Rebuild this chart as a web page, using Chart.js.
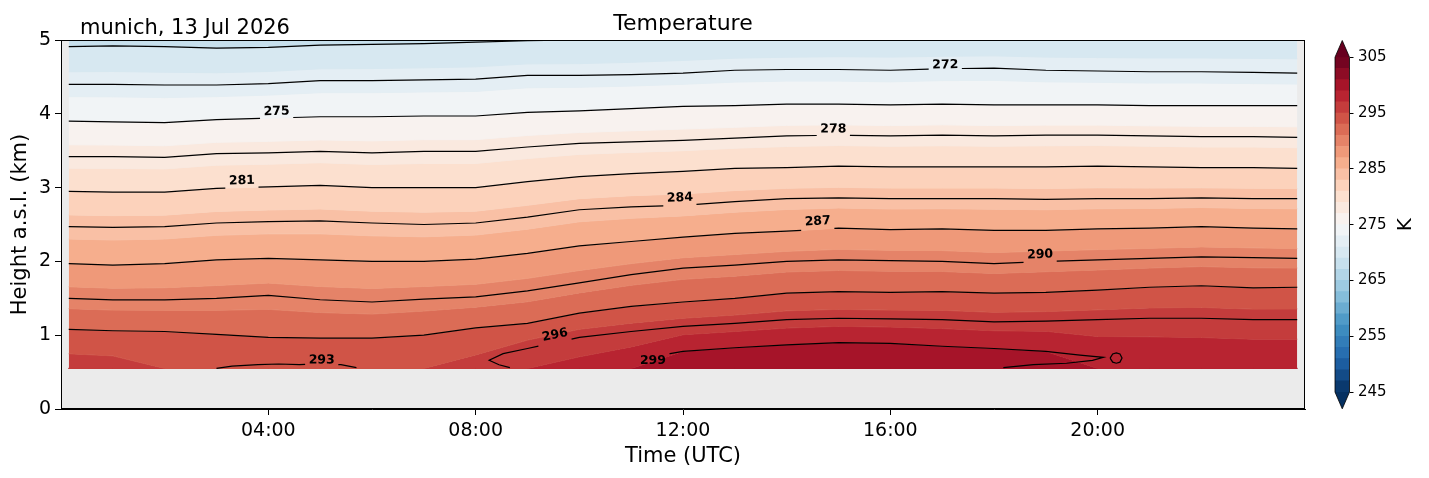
<!DOCTYPE html>
<html>
<head>
<meta charset="utf-8">
<title>Temperature</title>
<script src="https://cdn.jsdelivr.net/npm/chart.js@4.4.1/dist/chart.umd.min.js"></script>
<style>
  html, body { margin: 0; padding: 0; background: #fff; }
  #wrap { position: relative; width: 1429px; height: 478px; }
  #main { position: absolute; left: 0; top: 0; }
  #cbar { position: absolute; left: 1320px; top: 0; }
</style>
</head>
<body>
<div id="wrap">
  <canvas id="main" width="1320" height="478"></canvas>
  <canvas id="cbar" width="109" height="478"></canvas>
</div>
<script>
// time of each profile (hours UTC)
const hours = [0.15, 1, 2, 3, 4, 5, 6, 7, 8, 9, 10, 11, 12, 13, 14, 15, 16, 17, 18, 19, 20, 21, 22, 23, 23.85];

// lowest and highest gate of the profiles (km)
const lowestGate = 0.55;
const topGate = 5.0;

// height (km) of each isotherm at those times, null where it is not there
const h269 = [4.91, 4.92, 4.91, 4.89, 4.90, 4.93, 4.94, 4.95, 4.97, 4.99, 5.00, null, null, null, null, null, null, null, null, null, null, null, null, null, null];
const h272 = [4.40, 4.40, 4.39, 4.39, 4.41, 4.45, 4.45, 4.46, 4.47, 4.52, 4.52, 4.53, 4.55, 4.59, 4.60, 4.60, 4.59, 4.61, 4.62, 4.59, 4.58, 4.57, 4.57, 4.56, 4.55];
const h275 = [3.90, 3.89, 3.88, 3.92, 3.94, 3.96, 3.96, 3.97, 3.97, 4.02, 4.04, 4.07, 4.10, 4.11, 4.13, 4.13, 4.12, 4.13, 4.12, 4.12, 4.12, 4.11, 4.11, 4.11, 4.11];
const h278 = [3.42, 3.42, 3.41, 3.46, 3.47, 3.49, 3.47, 3.49, 3.49, 3.55, 3.60, 3.62, 3.64, 3.67, 3.70, 3.71, 3.70, 3.71, 3.70, 3.71, 3.71, 3.70, 3.69, 3.69, 3.68];
const h281 = [2.95, 2.94, 2.94, 2.99, 3.01, 3.03, 3.00, 3.00, 3.00, 3.08, 3.15, 3.19, 3.22, 3.26, 3.27, 3.29, 3.28, 3.28, 3.28, 3.28, 3.29, 3.28, 3.27, 3.27, 3.26];
const h284 = [2.47, 2.46, 2.47, 2.52, 2.54, 2.55, 2.52, 2.50, 2.52, 2.60, 2.70, 2.74, 2.76, 2.81, 2.85, 2.86, 2.85, 2.85, 2.85, 2.84, 2.85, 2.85, 2.86, 2.85, 2.85];
const h287 = [1.97, 1.95, 1.97, 2.02, 2.04, 2.02, 2.00, 2.00, 2.03, 2.11, 2.21, 2.27, 2.33, 2.38, 2.41, 2.45, 2.43, 2.44, 2.42, 2.42, 2.44, 2.45, 2.47, 2.45, 2.44];
const h290 = [1.50, 1.48, 1.48, 1.50, 1.54, 1.48, 1.45, 1.49, 1.52, 1.60, 1.71, 1.82, 1.91, 1.95, 2.00, 2.02, 2.01, 2.00, 1.97, 2.00, 2.02, 2.04, 2.06, 2.05, 2.04];
const h293 = [1.08, 1.06, 1.05, 1.01, 0.97, 0.96, 0.96, 1.00, 1.10, 1.16, 1.30, 1.39, 1.45, 1.50, 1.57, 1.59, 1.58, 1.59, 1.57, 1.58, 1.61, 1.65, 1.67, 1.64, 1.65];
const h296 = [null, null, null, null, null, null, null, null, null, 0.82, 0.97, 1.05, 1.12, 1.16, 1.21, 1.23, 1.22, 1.21, 1.18, 1.19, 1.21, 1.23, 1.23, 1.21, 1.21];
const h299 = [null, null, null, null, null, null, null, null, null, null, null, null, 0.78, 0.83, 0.87, 0.90, 0.89, 0.85, 0.82, 0.78, null, null, null, null, null];

// temperature (K) at the top gate and at the lowest gate
const tTop = [268.5, 268.5, 268.5, 268.5, 268.6, 268.7, 268.7, 268.8, 268.8, 268.9, 269.0, 269.2, 269.4, 269.5, 269.6, 269.7, 269.7, 269.7, 269.7, 269.7, 269.7, 269.7, 269.7, 269.7, 269.7];
const tBottom = [296.2, 296.0, 294.8, 294.5, 294.5, 294.5, 294.6, 294.9, 296.0, 297.0, 297.6, 298.4, 299.6, 300.0, 300.3, 300.4, 300.3, 300.1, 299.7, 299.3, 298.9, 298.7, 298.6, 298.5, 298.5];

// ends of the closed isotherms near the ground
const t296Start = [8.66, 8.45, 8.26, 8.53];
const h296Start = [0.56, 0.60, 0.66, 0.75];
const t299Start = [11.12, 11.15, 11.30, 11.75];
const h299Start = [0.56, 0.66, 0.73, 0.75];
const t299End = [19.66, 20.11, 19.9, 19.4, 18.76, 18.18];
const h299End = [0.73, 0.70, 0.66, 0.62, 0.60, 0.56];
const t299Ring = [20.24, 20.29, 20.36, 20.43, 20.47, 20.43, 20.36, 20.29, 20.24];
const h299Ring = [0.69, 0.745, 0.76, 0.745, 0.69, 0.635, 0.62, 0.635, 0.69];
const t293Low = [3.0, 3.3, 3.8, 4.2, 4.6, 5.0, 5.4, 5.7];
const h293Low = [0.55, 0.58, 0.60, 0.61, 0.60, 0.62, 0.60, 0.56];

// inline labels of the isotherms
const labelLevel = [272, 275, 278, 281, 284, 287, 290, 293, 296, 299];
const labelTime = [17.06, 4.16, 14.90, 3.49, 11.94, 14.60, 18.89, 5.03, 9.53, 11.42];
const labelHeight = [4.66, 4.03, 3.79, 3.09, 2.86, 2.54, 2.09, 0.66, 1.00, 0.65];

// shading levels and axis ticks
const fillLevels = [];
for (let L = 245; L <= 305; L += 2) fillLevels.push(L);
const xTickHours = [4, 8, 12, 16, 20];
const cbarTicks = [245, 255, 265, 275, 285, 295, 305];

const FONT = '"DejaVu Sans", sans-serif';
Chart.defaults.font.family = FONT;
Chart.defaults.color = '#000';

// RdBu_r
const rdbu = ['#053061', '#2166ac', '#4393c3', '#92c5de', '#d1e5f0', '#f7f7f7', '#fddbc7', '#f4a582', '#d6604d', '#b2182b', '#67001f'];
function hex(c) { return [1, 3, 5].map(i => parseInt(c.substr(i, 2), 16)); }
function cmap(v) {
    v = Math.min(1, Math.max(0, v));
    const p = v * 10, k = Math.min(9, Math.floor(p)), f = p - k;
    const a = hex(rdbu[k]), b = hex(rdbu[k + 1]);
    const c = a.map((x, i) => Math.round(x + (b[i] - x) * f));
    return `rgb(${c[0]},${c[1]},${c[2]})`;
}
const tMin = 245, tMax = 305;
function bandColor(mid) { return cmap((mid - tMin) / (tMax - tMin)); }

// vertical temperature profile at each time, from the isotherms
const isotherms = [
    {level: 269, h: h269}, {level: 272, h: h272}, {level: 275, h: h275}, {level: 278, h: h278},
    {level: 281, h: h281}, {level: 284, h: h284}, {level: 287, h: h287}, {level: 290, h: h290},
    {level: 293, h: h293}, {level: 296, h: h296}, {level: 299, h: h299}
];
const profiles = hours.map((t, i) => {
    const pts = [[topGate, tTop[i]]];
    isotherms.forEach(c => {
        const z = c.h[i];
        if (z !== null && z < topGate) pts.push([z, c.level]);
    });
    pts.push([lowestGate, tBottom[i]]);
    return pts.sort((p, q) => q[0] - p[0]);
});
function levelHeight(pts, L) {
    if (L <= pts[0][1]) return topGate;
    for (let k = 1; k < pts.length; k++) {
        const [z0, T0] = pts[k - 1], [z1, T1] = pts[k];
        if (L <= T1) return z0 + (z1 - z0) * (L - T0) / (T1 - T0);
    }
    return lowestGate;
}

// shaded bands
const datasets = [];
datasets.push({
    data: hours.map(t => ({x: t, y: topGate})),
    borderWidth: 0, pointRadius: 0, fill: false, order: 1
});
fillLevels.forEach(L => {
    const col = bandColor(L - 1);
    datasets.push({
        data: hours.map((t, i) => ({x: t, y: levelHeight(profiles[i], L)})),
        backgroundColor: col,
        borderColor: col,
        borderWidth: 1,
        pointRadius: 0,
        fill: '-1',
        order: 1
    });
});
datasets.push({
    data: hours.map(t => ({x: t, y: lowestGate})),
    backgroundColor: bandColor(tMax + 1),
    borderWidth: 0, pointRadius: 0, fill: '-1', order: 1
});

// isotherm lines
function gridPath(h) {
    const out = [];
    h.forEach((z, i) => { if (z !== null) out.push({x: hours[i], y: z}); });
    return out;
}
function pairs(ts, hs) { return ts.map((t, i) => ({x: t, y: hs[i]})); }

const contours = [
    {level: 269, path: gridPath(h269)},
    {level: 272, path: gridPath(h272)},
    {level: 275, path: gridPath(h275)},
    {level: 278, path: gridPath(h278)},
    {level: 281, path: gridPath(h281)},
    {level: 284, path: gridPath(h284)},
    {level: 287, path: gridPath(h287)},
    {level: 290, path: gridPath(h290)},
    {level: 293, path: gridPath(h293)},
    {level: 293, path: pairs(t293Low, h293Low)},
    {level: 296, path: pairs(t296Start, h296Start).concat(gridPath(h296))},
    {level: 299, path: pairs(t299Start, h299Start).concat(gridPath(h299), pairs(t299End, h299End))},
    {level: 299, path: pairs(t299Ring, h299Ring)}
];

function heightsAt(path, t) {
    const r = [];
    for (let k = 1; k < path.length; k++) {
        const q = path[k - 1], p = path[k];
        if (q.x !== p.x && (q.x - t) * (p.x - t) <= 0) r.push(q.y + (t - q.x) / (p.x - q.x) * (p.y - q.y));
    }
    return r;
}
function nearest(vals, z) {
    return vals.reduce((b, v) => Math.abs(v - z) < Math.abs(b - z) ? v : b, Infinity);
}
function withGap(path, a, b) {
    const out = [];
    let inside = path.length > 0 && path[0].x > a && path[0].x < b;
    path.forEach((p, k) => {
        if (k > 0) {
            const q = path[k - 1];
            const edges = q.x <= p.x ? [a, b] : [b, a];
            edges.forEach(e => {
                if ((q.x - e) * (p.x - e) < 0) {
                    const c = {x: e, y: q.y + (e - q.x) / (p.x - q.x) * (p.y - q.y)};
                    if (inside) {
                        out.push(c);
                        inside = false;
                    } else {
                        out.push(c);
                        out.push({x: e, y: null});
                        inside = true;
                    }
                }
            });
        }
        if (!inside) out.push(p);
    });
    return out;
}

const gapHalf = 0.32; // hours
const labels = labelLevel.map((lev, i) => {
    const t = labelTime[i], z = labelHeight[i];
    let best = null, bestD = Infinity;
    contours.forEach(c => {
        if (c.level !== lev) return;
        const d = Math.abs(nearest(heightsAt(c.path, t), z) - z);
        if (d < bestD) { bestD = d; best = c; }
    });
    const z0 = nearest(heightsAt(best.path, t - gapHalf), z);
    const z1 = nearest(heightsAt(best.path, t + gapHalf), z);
    best.path = withGap(best.path, t - gapHalf, t + gapHalf);
    return {level: lev, t: t, z: z, t0: t - gapHalf, t1: t + gapHalf, z0: z0, z1: z1};
});

contours.forEach(c => {
    datasets.push({
        data: c.path,
        borderColor: '#000',
        borderWidth: 1.2,
        pointRadius: 0,
        fill: false,
        spanGaps: false,
        order: 0
    });
});

const mainDecor = {
    id: 'mainDecor',
    beforeDatasetsDraw(chart) {
        const {ctx, chartArea: a} = chart;
        ctx.save();
        ctx.fillStyle = '#ebebeb';
        ctx.fillRect(a.left, a.top, a.right - a.left, a.bottom - a.top);
        ctx.restore();
    },
    afterDatasetsDraw(chart) {
        const {ctx, chartArea: a, scales: {x, y}} = chart;
        ctx.save();
        ctx.font = 'bold 12.5px ' + FONT;
        ctx.textAlign = 'center';
        ctx.textBaseline = 'middle';
        ctx.fillStyle = '#000';
        labels.forEach(lb => {
            const px = x.getPixelForValue(lb.t), py = y.getPixelForValue(lb.z);
            let ang = 0;
            if (isFinite(lb.z0) && isFinite(lb.z1)) {
                ang = Math.atan2(y.getPixelForValue(lb.z1) - y.getPixelForValue(lb.z0),
                                 x.getPixelForValue(lb.t1) - x.getPixelForValue(lb.t0));
            }
            ctx.save();
            ctx.translate(px, py);
            ctx.rotate(ang);
            ctx.fillText(String(lb.level), 0, 0);
            ctx.restore();
        });
        ctx.strokeStyle = '#000';
        ctx.lineWidth = 1;
        ctx.strokeRect(a.left + 0.5, a.top + 0.5, a.right - a.left - 1, a.bottom - a.top - 1);
        ctx.restore();
    },
    afterDraw(chart) {
        const {ctx, chartArea: a} = chart;
        ctx.save();
        ctx.fillStyle = '#000';
        ctx.textBaseline = 'alphabetic';
        ctx.font = '22px ' + FONT;
        ctx.textAlign = 'center';
        ctx.fillText('Temperature', (a.left + a.right) / 2, 30);
        ctx.font = '21px ' + FONT;
        ctx.textAlign = 'left';
        ctx.fillText('munich, 13 Jul 2026', 80, 34);
        ctx.restore();
    }
};

new Chart(document.getElementById('main'), {
    type: 'line',
    data: {datasets: datasets},
    options: {
        responsive: false,
        animation: false,
        events: [],
        layout: {padding: {top: 40, right: 15, left: 0, bottom: 0}},
        plugins: {legend: {display: false}, tooltip: {enabled: false}, title: {display: false}},
        elements: {line: {tension: 0}, point: {radius: 0}},
        scales: {
            x: {
                type: 'linear', min: 0, max: 24,
                afterBuildTicks: s => { s.ticks = xTickHours.map(v => ({value: v})); },
                afterFit: s => { s.height = 69; },
                ticks: {
                    autoSkip: false, maxRotation: 0, padding: 5,
                    font: {size: 19},
                    callback: v => String(v).padStart(2, '0') + ':00'
                },
                grid: {drawOnChartArea: false, drawTicks: true, tickLength: 6, color: '#000'},
                border: {display: true, color: '#000', width: 1},
                title: {display: true, text: 'Time (UTC)', font: {size: 21}, padding: {top: 0, bottom: 9}}
            },
            y: {
                type: 'linear', min: 0, max: 5,
                afterFit: s => { s.width = 61; },
                ticks: {stepSize: 1, padding: 4, font: {size: 19}},
                grid: {drawOnChartArea: false, drawTicks: true, tickLength: 6, color: '#000'},
                border: {display: true, color: '#000', width: 1},
                title: {display: true, text: 'Height a.s.l. (km)', font: {size: 21}, padding: {top: 8, bottom: 0}}
            }
        }
    },
    plugins: [mainDecor]
});

// colour bar
const cbarLow = 242, cbarHigh = 308;
const cbarDecor = {
    id: 'cbarDecor',
    afterDatasetsDraw(chart) {
        const {ctx, chartArea: a, scales: {y}} = chart;
        const cx = (a.left + a.right) / 2;
        const yHi = y.getPixelForValue(tMax), yLo = y.getPixelForValue(tMin);
        const yTop = y.getPixelForValue(cbarHigh), yBot = y.getPixelForValue(cbarLow);
        ctx.save();
        ctx.fillStyle = cmap(1);
        ctx.beginPath();
        ctx.moveTo(a.left, yHi); ctx.lineTo(cx, yTop); ctx.lineTo(a.right, yHi); ctx.closePath();
        ctx.fill();
        ctx.fillStyle = cmap(0);
        ctx.beginPath();
        ctx.moveTo(a.left, yLo); ctx.lineTo(cx, yBot); ctx.lineTo(a.right, yLo); ctx.closePath();
        ctx.fill();
        ctx.strokeStyle = '#000';
        ctx.lineWidth = 0.8;
        ctx.beginPath();
        ctx.moveTo(a.left, yHi); ctx.lineTo(cx, yTop); ctx.lineTo(a.right, yHi);
        ctx.lineTo(a.right, yLo); ctx.lineTo(cx, yBot); ctx.lineTo(a.left, yLo);
        ctx.closePath();
        ctx.stroke();
        ctx.fillStyle = '#000';
        ctx.font = '20px ' + FONT;
        ctx.textAlign = 'center';
        ctx.textBaseline = 'middle';
        ctx.translate(85.5, (yHi + yLo) / 2);
        ctx.rotate(-Math.PI / 2);
        ctx.fillText('K', 0, 0);
        ctx.restore();
    }
};

const cbarBands = fillLevels.slice(0, -1);
new Chart(document.getElementById('cbar'), {
    type: 'bar',
    data: {
        labels: [''],
        datasets: cbarBands.map(L => ({
            data: [[L, L + 2]],
            backgroundColor: bandColor(L + 1),
            borderWidth: 0,
            grouped: false,
            barPercentage: 1,
            categoryPercentage: 1
        }))
    },
    options: {
        responsive: false,
        animation: false,
        events: [],
        layout: {padding: {left: 15, top: 40.5, bottom: 69.2, right: 0}},
        plugins: {legend: {display: false}, tooltip: {enabled: false}},
        scales: {
            x: {display: false},
            y: {
                position: 'right', min: cbarLow, max: cbarHigh,
                afterBuildTicks: s => { s.ticks = cbarTicks.map(v => ({value: v})); },
                afterFit: s => { s.width = 79.5; },
                ticks: {padding: 4.5, font: {size: 15}},
                grid: {drawOnChartArea: false, drawTicks: true, tickLength: 4, color: '#000'},
                border: {display: false}
            }
        }
    },
    plugins: [cbarDecor]
});
</script>
</body>
</html>
